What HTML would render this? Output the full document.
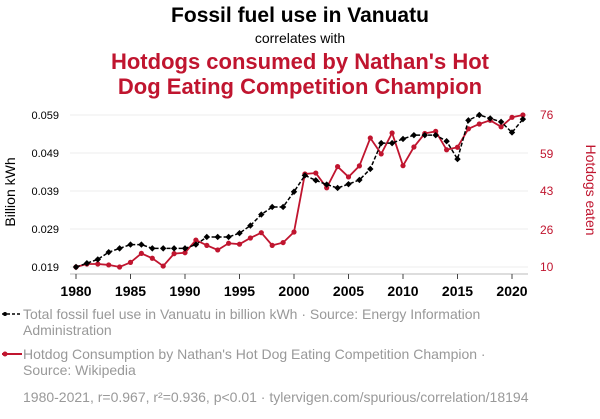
<!DOCTYPE html>
<html><head><meta charset="utf-8"><style>
body{margin:0;width:600px;height:414px;background:#fff;font-family:"Liberation Sans",sans-serif;overflow:hidden}
svg text{font-family:"Liberation Sans",sans-serif}
</style></head><body>
<svg width="600" height="414">
<text x="300" y="22" text-anchor="middle" font-size="21" font-weight="bold" fill="#000">Fossil fuel use in Vanuatu</text>
<text x="300" y="43" text-anchor="middle" font-size="14" fill="#000">correlates with</text>
<text x="300" y="69" text-anchor="middle" font-size="22" font-weight="bold" fill="#c0152f">Hotdogs consumed by Nathan's Hot</text>
<text x="300" y="94" text-anchor="middle" font-size="22" font-weight="bold" fill="#c0152f">Dog Eating Competition Champion</text>
<g id="grid"></g><g id="axes"></g><g id="series"></g>
<text transform="translate(15,192) rotate(-90)" text-anchor="middle" font-size="14" fill="#000">Billion kWh</text>
<text transform="translate(586,190) rotate(90)" text-anchor="middle" font-size="14" fill="#c0152f">Hotdogs eaten</text>
<g>
<line x1="2" y1="314" x2="22" y2="314" stroke="#000" stroke-width="1.5" stroke-dasharray="3,2"/><circle cx="5" cy="314" r="2" fill="#000"/>
<text x="23" y="319" font-size="14" fill="#999">Total fossil fuel use in Vanuatu in billion kWh · Source: Energy Information</text>
<text x="23" y="335" font-size="14" fill="#999">Administration</text></g>
<g>
<line x1="2" y1="354" x2="22" y2="354" stroke="#c0152f" stroke-width="2"/><circle cx="5" cy="354" r="2.5" fill="#c0152f"/>
<text x="23" y="359" font-size="14" fill="#999">Hotdog Consumption by Nathan's Hot Dog Eating Competition Champion ·</text>
<text x="23" y="375" font-size="14" fill="#999">Source: Wikipedia</text></g>
<text x="23" y="402" font-size="14" fill="#999">1980-2021, r=0.967, r²=0.936, p&lt;0.01 · tylervigen.com/spurious/correlation/18194</text>
</svg>
<script>
const years=[1980,1981,1982,1983,1984,1985,1986,1987,1988,1989,1990,1991,1992,1993,1994,1995,1996,1997,1998,1999,2000,2001,2002,2003,2004,2005,2006,2007,2008,2009,2010,2011,2012,2013,2014,2015,2016,2017,2018,2019,2020,2021];
const fossil=[0.019,0.020,0.021,0.0229,0.0239,0.0249,0.0249,0.0239,0.0239,0.0239,0.0239,0.0249,0.0269,0.0269,0.0269,0.0279,0.0299,0.0328,0.0348,0.0348,0.0388,0.0431,0.0418,0.0407,0.0398,0.0408,0.0419,0.0448,0.0516,0.0516,0.0527,0.0537,0.0537,0.0537,0.0521,0.0474,0.0576,0.059,0.0581,0.0572,0.0544,0.0579];
const hotdogs=[10,11.3,11.3,10.9,10,12,15.9,13.8,10.4,15.8,16.2,21.7,19.4,17.4,20.3,19.9,22.6,24.9,19.4,20.6,25.2,50.4,50.8,44.4,53.6,49.1,53.9,66,59.1,68.2,54,62.1,68,68.9,60.9,62,70,72.1,73.7,70.9,75,76];
const xTicks=[1980,1985,1990,1995,2000,2005,2010,2015,2020];
const leftTicks=[0.019,0.029,0.039,0.049,0.059];
const rightTicks=[10,26,43,59,76];
const NS="http://www.w3.org/2000/svg";
const x=v=>76+(v-1980)*10.9;
const yl=v=>267-(v-0.019)*3800;
const yr=v=>267-(v-10)*2.303;
function mk(t,a,p){const e=document.createElementNS(NS,t);for(const k in a)e.setAttribute(k,a[k]);document.getElementById(p).appendChild(e);return e;}
leftTicks.forEach((t,i)=>{
 const g=mk('line',{x1:70,x2:528,y1:yl(t),y2:yl(t),stroke:'#eee','stroke-width':1},'grid');
 
 
 const l=mk('text',{x:59,y:yl(t)+4,'text-anchor':'end','font-size':11,fill:'#000'},'axes');l.textContent=t.toFixed(3);
 
 
});
rightTicks.forEach(t=>{
 const l=mk('text',{x:540,y:yr(t)+4,'font-size':12,fill:'#c0152f'},'axes');l.textContent=t;
 
 
});
const ax=mk('line',{x1:70,x2:528,y1:274,y2:274,stroke:'#bbb','stroke-width':1},'axes');


xTicks.forEach(t=>{
 const tk=mk('line',{x1:x(t),x2:x(t),y1:274,y2:279,stroke:'#444','stroke-width':1},'axes');
 
 
 const l=mk('text',{x:x(t),y:296,'text-anchor':'middle','font-size':14,'font-weight':'bold',fill:'#000'},'axes');l.textContent=t;
 
 
});
const rp=mk('polyline',{points:years.map((y,i)=>x(y)+','+yr(hotdogs[i])).join(' '),fill:'none',stroke:'#c0152f','stroke-width':1.8},'series');


years.forEach((y,i)=>{const c=mk('circle',{cx:x(y),cy:yr(hotdogs[i]),r:2.6,fill:'#c0152f'},'series');
 
 });
const bp=mk('polyline',{points:years.map((y,i)=>x(y)+','+yl(fossil[i])).join(' '),fill:'none',stroke:'#000','stroke-width':1.5,'stroke-dasharray':'4,2'},'series');


years.forEach((y,i)=>{const cx=x(y),cy=yl(fossil[i]);const c=mk('polygon',{points:`${cx},${cy-3.2} ${cx+3.2},${cy} ${cx},${cy+3.2} ${cx-3.2},${cy}`,fill:'#000'},'series');
 
 });
</script>
</body></html>
